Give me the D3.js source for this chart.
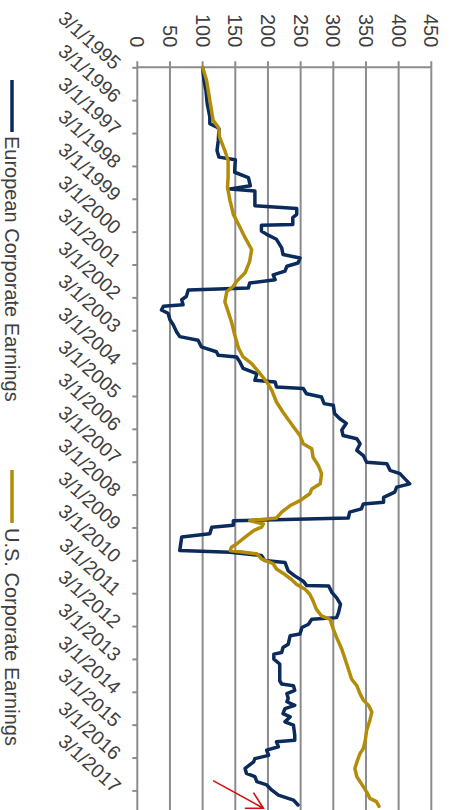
<!DOCTYPE html>
<html><head><meta charset="utf-8">
<script src="https://cdn.jsdelivr.net/npm/d3@7"></script>
<style>html,body{margin:0;padding:0;background:#fff;} svg{display:block;}</style>
</head><body>
<svg id="c" width="450" height="810"></svg>
<script>
// ---- data ----
const seriesNames = ["European Corporate Earnings", "U.S. Corporate Earnings"];
const valueTicks = [0, 50, 100, 150, 200, 250, 300, 350, 400, 450];
const yearTicks = d3.range(1995, 2018); // labelled 3/1/YYYY

const euYears = [1995.17,1995.56,1995.86,1996.27,1996.68,1996.88,1996.99,1997.04,1997.39,1997.70,1997.90,1997.98,1998.36,1998.52,1998.77,1998.87,1998.93,1999.38,1999.46,1999.64,1999.74,1999.95,1999.97,2000.15,2000.25,2000.40,2000.66,2000.86,2000.97,2001.12,2001.22,2001.37,2001.48,2001.63,2001.73,2001.88,2001.94,2002.14,2002.24,2002.39,2002.44,2002.55,2002.65,2002.85,2003.00,2003.21,2003.36,2003.47,2003.67,2003.82,2003.93,2003.98,2004.13,2004.33,2004.49,2004.69,2004.74,2004.89,2004.94,2005.10,2005.20,2005.40,2005.45,2005.70,2005.86,2006.00,2006.20,2006.37,2006.47,2006.62,2006.82,2006.98,2007.18,2007.23,2007.43,2007.53,2007.84,2007.94,2008.09,2008.25,2008.40,2008.45,2008.60,2008.70,2008.88,2008.96,2009.10,2009.16,2009.36,2009.46,2009.87,2009.92,2010.02,2010.17,2010.23,2010.49,2010.64,2010.80,2010.93,2010.95,2011.15,2011.30,2011.50,2011.76,2011.91,2011.96,2012.11,2012.21,2012.41,2012.46,2012.72,2012.82,2012.97,2013.02,2013.17,2013.32,2013.83,2013.93,2013.98,2014.12,2014.22,2014.37,2014.47,2014.58,2014.68,2014.83,2014.93,2015.08,2015.18,2015.49,2015.64,2015.69,2015.84,2015.94,2016.10,2016.20,2016.30,2016.50,2016.65,2016.75,2016.90,2017.00,2017.16,2017.31,2017.46,2017.61];
const euValues = [100,102,105,107,111,111,122,125,124,122,125,150,149,170,173,142,180,180,244,244,238,238,190,190,198,213,221,223,249,246,229,226,208,211,172,170,78,75,68,70,40,37,47,50,55,60,65,93,98,121,124,152,157,162,183,180,211,213,254,259,282,286,300,302,310,320,313,315,336,341,336,346,351,382,387,402,417,397,394,377,377,346,343,325,323,147,147,114,111,68,65,142,190,195,226,231,241,254,259,293,298,305,311,308,305,267,262,252,249,234,231,223,221,209,209,218,218,221,239,241,229,231,229,241,226,223,234,226,239,241,241,213,216,198,201,180,178,165,167,180,183,198,206,216,239,246];

const usYears = [1995.17,1995.56,1996.17,1996.78,1996.99,1997.29,1997.70,1998.00,1998.52,1998.82,1999.23,1999.64,1999.95,2000.35,2000.71,2001.07,2001.42,2001.68,2001.83,2001.99,2002.30,2002.60,2002.90,2003.30,2003.72,2003.98,2004.18,2004.49,2004.74,2005.00,2005.35,2005.66,2006.10,2006.37,2006.62,2006.77,2007.03,2007.28,2007.53,2007.84,2008.00,2008.14,2008.35,2008.50,2008.70,2008.88,2008.96,2009.06,2009.16,2009.26,2009.46,2009.67,2009.77,2009.87,2009.97,2010.12,2010.27,2010.43,2010.60,2010.75,2010.90,2011.05,2011.20,2011.40,2011.65,2011.86,2011.96,2012.26,2012.51,2012.87,2013.17,2013.47,2013.78,2013.98,2014.23,2014.42,2014.58,2014.78,2015.03,2015.34,2015.64,2015.89,2016.04,2016.25,2016.50,2016.75,2016.96,2017.21,2017.41,2017.51,2017.65];
const usValues = [100,106,111,116,124,126,134,139,139,138,142,147,155,165,175,172,165,152,147,137,134,139,144,149,155,162,175,188,198,206,213,223,239,249,254,267,269,277,282,280,267,264,249,234,221,213,172,193,190,178,165,152,144,142,183,190,208,213,226,236,244,257,264,269,274,282,295,300,305,313,318,323,328,336,341,346,354,359,356,351,349,346,341,337,333,336,343,351,356,366,370];

// annotation arrow (data coordinates: [year, value])
const arrowFrom = [2016.87, 116];
const arrowTo = [2017.71, 193];

// ---- drawing ----
const gridColor = "#8c8c8c";
const textColor = "#404040";
const colors = ["#0b2b5c", "#b38d0a"];
const font = "'Liberation Sans', Arial, sans-serif";

const svg = d3.select("#c");
// chart drawn in landscape frame, rotated 90° clockwise
const g = svg.append("g").attr("transform", "translate(450,0) rotate(90)");

const x = d3.scaleLinear().domain([1995 + 2/12, 2017 + 2/12]).range([67.3, 790.4]);
const y = d3.scaleLinear().domain([0, 450]).range([312.7, 18.7]);
const plotEnd = 830;

// gridlines (with outward tick)
g.append("g").selectAll("line").data(valueTicks).join("line")
  .attr("x1", x.range()[0] - 6).attr("x2", plotEnd)
  .attr("y1", d => y(d)).attr("y2", d => y(d))
  .attr("stroke", gridColor).attr("stroke-width", 2);

// value axis line
g.append("line").attr("x1", x.range()[0]).attr("x2", x.range()[0])
  .attr("y1", y(0)).attr("y2", y(450)).attr("stroke", gridColor).attr("stroke-width", 2);

// value axis labels
const yAxis = g.append("g").attr("transform", `translate(${x.range()[0]},0)`)
  .call(d3.axisLeft(y).tickValues(valueTicks).tickSize(0).tickPadding(20).tickFormat(d3.format("d")));
yAxis.select(".domain").remove();
yAxis.selectAll("text").attr("fill", textColor).style("font-family", font).style("font-size", "20px");

// date axis
const xAxis = g.append("g").attr("transform", `translate(0,${y(0)})`)
  .call(d3.axisBottom(x).tickValues(yearTicks.map(t => t + 2/12)).tickSize(5)
    .tickFormat(d => "3/1/" + Math.round(d - 2/12)));
xAxis.select(".domain").remove();
xAxis.selectAll(".tick line").attr("stroke", gridColor).attr("stroke-width", 2);
xAxis.selectAll("text")
  .attr("x", 0).attr("y", 0).attr("dy", 0)
  .attr("transform", "translate(3,24) rotate(-48)")
  .attr("text-anchor", "end")
  .attr("fill", textColor).style("font-family", font).style("font-size", "19.5px");

// series lines
const line = d3.line().x(d => x(d[0])).y(d => y(d[1]));
const euData = euYears.map((t, i) => [t, euValues[i]]);
const usData = usYears.map((t, i) => [t, usValues[i]]);
[euData, usData].forEach((data, i) => {
  g.append("path").datum(data).attr("d", line)
    .attr("fill", "none").attr("stroke", colors[i]).attr("stroke-width", 3.5)
    .attr("stroke-linejoin", "round").attr("stroke-linecap", "round");
});

// arrow annotation
const ax0 = x(arrowFrom[0]), ay0 = y(arrowFrom[1]);
const ax1 = x(arrowTo[0]), ay1 = y(arrowTo[1]);
const ang = Math.atan2(ay0 - ay1, ax0 - ax1);
const hl = 18.5, ha = 28.7 * Math.PI / 180;
const arrowPath = d3.path();
arrowPath.moveTo(ax0, ay0); arrowPath.lineTo(ax1, ay1);
arrowPath.moveTo(ax1 + hl * Math.cos(ang - ha), ay1 + hl * Math.sin(ang - ha));
arrowPath.lineTo(ax1, ay1);
arrowPath.lineTo(ax1 + hl * Math.cos(ang + ha), ay1 + hl * Math.sin(ang + ha));
g.append("path").attr("d", arrowPath.toString()).attr("fill", "none")
  .attr("stroke", "#d40f0f").attr("stroke-width", 1.6);

// legend
const legendY = 438;
const legendItems = [{x0: 80, x1: 132, tx: 136}, {x0: 470, x1: 523, tx: 528}];
legendItems.forEach((it, i) => {
  g.append("line").attr("x1", it.x0).attr("x2", it.x1).attr("y1", legendY).attr("y2", legendY)
    .attr("stroke", colors[i]).attr("stroke-width", 3.5);
  g.append("text").attr("x", it.tx).attr("y", legendY).attr("dy", "0.35em")
    .attr("fill", textColor).style("font-family", font).style("font-size", "20px")
    .text(seriesNames[i]);
});
</script>
</body></html>
